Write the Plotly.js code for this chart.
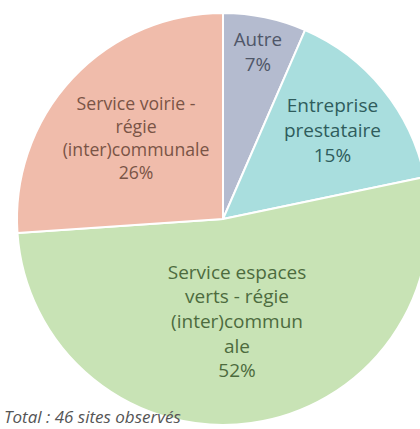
<!DOCTYPE html>
<html>
<head>
<meta charset="utf-8">
<script src="https://cdn.plot.ly/plotly-3.0.1.min.js"></script>
<style>
html, body { margin: 0; padding: 0; width: 420px; height: 429px; overflow: hidden; background: #fff; }
#chart { position: absolute; left: -30px; top: 0; width: 500px; height: 450px; }
</style>
</head>
<body>
<div id="chart"></div>
<script>
const categories = ["Autre", "Entreprise prestataire", "Service espaces verts - régie (inter)communale", "Service voirie - régie (inter)communale"];
const displayLabels = ["Autre", "Entreprise<br>prestataire", "Service espaces<br>verts - régie<br>(inter)commun<br>ale", "Service voirie -<br>régie<br>(inter)communale"];
const siteCounts = [3, 7, 24, 12];
const sliceColors = ["#b4bbcf", "#a9dede", "#c8e3b5", "#f0bcab"];
const textColors = ["#4f5668", "#2f5c5c", "#4d6b3e", "#7a5446"];
const footnote = "Total : 46 sites observés";

const trace = {
  type: "pie",
  values: siteCounts,
  labels: categories,
  text: displayLabels,
  texttemplate: "%{text}<br>%{percent:.0%}",
  textposition: "inside",
  insidetextorientation: "horizontal",
  sort: false,
  direction: "clockwise",
  rotation: 0,
  hole: 0,
  marker: { colors: sliceColors, line: { color: "#ffffff", width: 2 } },
  insidetextfont: { family: "Open Sans, Noto Sans, sans-serif", size: 19, color: textColors },
  showlegend: false,
  domain: { x: [0, 1], y: [0, 1] }
};

const layout = {
  width: 500,
  height: 450,
  margin: { l: 47, r: 41, t: 13, b: 25 },
  paper_bgcolor: "rgba(0,0,0,0)",
  plot_bgcolor: "rgba(0,0,0,0)",
  showlegend: false,
  annotations: [{
    text: footnote,
    xref: "paper", yref: "paper",
    x: -0.036, y: 0.021,
    xanchor: "left", yanchor: "middle",
    showarrow: false,
    font: { family: "Open Sans, Noto Sans, sans-serif", size: 17, color: "#555555", style: "italic" }
  }]
};

Plotly.newPlot("chart", [trace], layout, { displayModeBar: false, staticPlot: true });
</script>
</body>
</html>
